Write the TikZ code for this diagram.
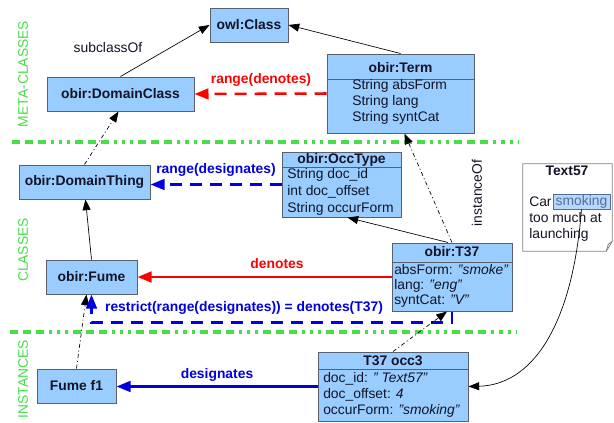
\documentclass[tikz,border=0pt]{standalone}
\usepackage{fontspec}
\setmainfont{Liberation Sans}
\usetikzlibrary{arrows.meta,fit,calc}
\definecolor{boxfill}{RGB}{153,204,255}
\definecolor{boxline}{RGB}{90,95,110}
\definecolor{grn}{RGB}{70,224,70}
\definecolor{myred}{RGB}{255,0,0}
\definecolor{myblue}{RGB}{0,0,225}
\definecolor{txt}{RGB}{20,20,40}
\definecolor{smk}{RGB}{80,110,160}
\definecolor{smkfill}{RGB}{185,215,250}
\definecolor{notegray}{RGB}{130,130,130}
\begin{document}
\begin{tikzpicture}[x=0.75pt,y=-0.75pt,
  fnt/.style={font=\fontsize{10.4}{12.4}\selectfont},
  cls/.style={draw=boxline,fill=boxfill,line width=0.75pt,inner sep=0pt,text=txt,font=\fontsize{10.4}{12.4}\selectfont\bfseries},
  ttl/.style={inner sep=0pt,text=txt,font=\fontsize{10.4}{12.4}\selectfont\bfseries},
  attr/.style={inner sep=0pt,anchor=west,align=left,text=txt},
  sep/.style={draw=boxline,line width=0.75pt},
  blk/.style={draw=black,line width=0.5pt,-{Triangle[length=8pt,width=6pt]}},
  dd/.style={blk,dash pattern=on 3pt off 2pt on 0.8pt off 2pt},
  redline/.style={draw=myred,line width=1.9pt,-{Triangle[length=10.5pt,width=8pt]}},
  blueline/.style={draw=myblue,line width=1.9pt,-{Triangle[length=10.5pt,width=8pt]}},
  dashpat/.style={dash pattern=on 9pt off 6pt},
  lblred/.style={text=myred,font=\fontsize{10.4}{12.4}\selectfont\bfseries,inner sep=0pt},
  lblblue/.style={text=myblue,font=\fontsize{10.4}{12.4}\selectfont\bfseries,inner sep=0pt},
  lblblk/.style={text=txt,font=\fontsize{10.4}{12.4}\selectfont,inner sep=0pt},
  lane/.style={text=grn,font=\fontsize{10.4}{12.4}\selectfont,rotate=90,inner sep=0pt},
  grnline/.style={draw=grn,line width=3.2pt,dash pattern=on 6pt off 3.75pt on 6pt off 3.75pt on 6pt off 3.75pt on 2.3pt off 3.75pt on 2.3pt off 3.75pt on 2.3pt off 3.75pt}
]
\useasboundingbox (0,0) rectangle (614,422);
\fill[white] (0,0) rectangle (614,422);

% lane separators
\draw[grnline] (12,142) -- (518,142);
\draw[grnline] (10,332) -- (517,332);

% lane labels
\node[lane] (lmeta) at (23,74) {META-CLASSES};
\node[lane] (lcls) at (23,250) {CLASSES};
\node[lane] (linst) at (23,379) {INSTANCES};

% simple boxes
\node[cls,fit={(210,8)(288,42)}] (owl) {};
\node[ttl] (owlT) at (owl.center) {owl:Class};
\node[cls,fit={(47,77)(194,111)}] (dc) {};
\node[ttl] (dcT) at (dc.center) {obir:DomainClass};
\node[cls,fit={(19,165)(150,199)}] (dt) {};
\node[ttl] (dtT) at (dt.center) {obir:DomainThing};
\node[cls,fit={(46,260)(137,294)}] (fume) {};
\node[ttl] (fumeT) at (fume.center) {obir:Fume};
\node[cls,fit={(37,369)(116,403)}] (f1) {};
\node[ttl] (f1T) at (f1.center) {Fume f1};

% obir:Term
\node[cls,fit={(327,54)(474,133)}] (term) {};
\draw[sep] (327,79) -- (474,79);
\node[ttl] (termT) at (400.5,68) {obir:Term};
\node[attr,font=\fontsize{10.4}{12}\selectfont] (termA) at (352,102) {String absForm\\String lang\\String syntCat};

% obir:OccType
\node[cls,fit={(282,152)(401,217)}] (occ) {};
\draw[sep] (282,167) -- (401,167);
\node[ttl] (occT) at (341.5,160) {obir:OccType};
\node[attr,font=\fontsize{10.4}{12.6}\selectfont] (occA) at (287,192) {String doc\_id\\int doc\_offset\\String occurForm};

% obir:T37
\node[cls,fit={(392,243)(512,311)}] (t37) {};
\draw[sep] (392,262) -- (512,262);
\node[ttl] (t37T) at (452,252) {obir:T37};
\node[attr,font=\fontsize{10.4}{11.3}\selectfont] (t37A) at (394,285.5) {absForm: \textit{"smoke"}\\lang: \textit{"eng"}\\syntCat: \textit{"V"}};

% T37 occ3
\node[cls,fit={(318,352)(468,421)}] (occ3) {};
\draw[sep] (318,369) -- (468,369);
\node[ttl] (occ3T) at (393,361) {T37 occ3};
\node[attr,font=\fontsize{10.4}{12}\selectfont] (occ3A) at (323,395) {doc\_id: \textit{" Text57"}\\doc\_offset: \textit{4}\\occurForm: \textit{"smoking"}};

% Text57 note
\node[inner sep=0pt,fit={(523,164)(612,251)}] (note) {};
\draw[draw=notegray,fill=white,line width=0.6pt] (note.north west) -- (note.north east) -- ($(note.south east)+(0,-10)$) -- ($(note.south east)+(-6,0)$) -- (note.south west) -- cycle;
\draw[draw=notegray,line width=0.6pt] ($(note.south east)+(-6,0)$) -- ($(note.south east)+(-4,-7)$) -- ($(note.south east)+(0,-10)$);
\node[ttl] (noteT) at (567,171) {Text57};
\node[lblblk,anchor=west] (car) at (529,202) {Car};
\node[draw=smk,fill=smkfill,line width=0.6pt,inner sep=0pt,fit={(553,194)(610,209)}] (smk) {};
\node[inner sep=0pt,text=smk,font=\fontsize{10.4}{12.4}\selectfont] (smkT) at (smk.center) {smoking};
\node[lblblk,anchor=west,align=left,font=\fontsize{10.4}{12}\selectfont] (rest) at (529,227) {too much at\\launching};

% connectors
\draw[blk] (dc.north) -- (owl.west);
\draw[blk] (term.north) -- (owl.east);
\draw[redline,dashpat] (term.west) -- (dc.east);
\draw[blueline,dashpat] (occ.west) -- (occ.west -| dt.east);
\draw[redline] (t37.west) -- (t37.west -| fume.east);
\draw[blueline] (occ3.west) -- (occ3.west -| f1.east);
\draw[dd] (dt.north) -- ($(dc.south)+(-2,0)$);
\draw[blk] (fume.north) -- ($(dt.south)+(1,0)$);
\draw[dd] (f1.north) -- ($(fume.south)+(-5,0)$);
\draw[blueline,dashpat] (t37.south) -- ++(0,11) -| (fume.south);
\draw[dd] (t37.north) -- ($(term.south)+(4,0)$);
\draw[blk] ($(t37.north)+(-4,0)$) -- ($(occ.south)+(6,0)$);
\draw[dd] (occ3.north) -- ($(t37.south)+(-5,0)$);
\draw[blk] (smk.south) .. controls (572,330) and (530,385) .. (occ3.east);

% labels
\node[lblblk] (lsub) at (108,48) {subclassOf};
\node[lblred] (lrd) at (261,80) {range(denotes)};
\node[lblblue] (lrdes) at (216,170) {range(designates)};
\node[lblred] (lden) at (277,264) {denotes};
\node[lblblue] (lres) at (244,308) {restrict(range(designates)) = denotes(T37)};
\node[lblblue] (ldes) at (217,375) {designates};
\node[lblblk,rotate=90] (linst2) at (477,193) {instanceOf};
\end{tikzpicture}
\end{document}
